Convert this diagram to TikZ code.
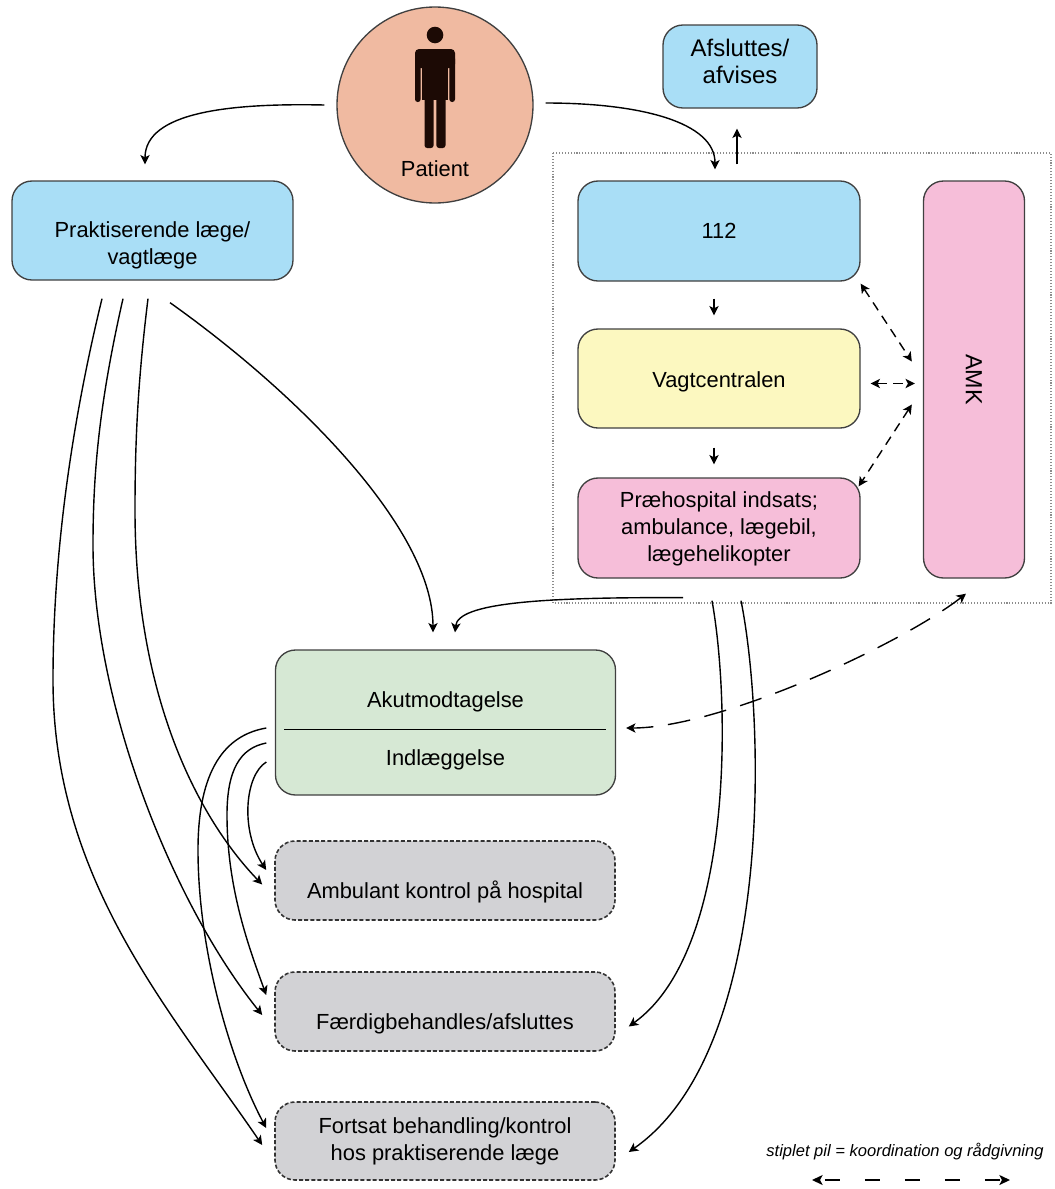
\documentclass[tikz,border=0pt]{standalone}
\usepackage{fontspec}
\usepackage{graphicx}
\setmainfont{Liberation Sans}
\usetikzlibrary{arrows.meta,calc}
\newdimen\pxu \pxu=0.75pt
\definecolor{cblue}{RGB}{169,222,246}
\definecolor{cyellow}{RGB}{252,248,192}
\definecolor{cpink}{RGB}{246,190,217}
\definecolor{cgreen}{RGB}{214,232,212}
\definecolor{cgray}{RGB}{210,210,213}
\definecolor{csalmon}{RGB}{240,186,161}
\definecolor{cman}{RGB}{28,10,5}
\newcommand\tx[2]{\raisebox{#1}[0pt][0pt]{\begin{tabular}{@{}c@{}}#2\end{tabular}}}
\begin{document}
\begin{tikzpicture}[x=0.75pt,y=-0.75pt,
  box/.style={draw=black!75, line width=1pt, rounded corners=15pt, inner sep=0pt,
    font=\fontsize{16.4}{20.5}\selectfont},
  gbox/.style={box, fill=cgray, draw=black!80, line width=1.2pt, dash pattern=on 3pt off 1.6pt},
  tip/.tip={Stealth[length=7pt,width=7pt,inset=1.8pt]},
  arr/.style={line width=1.05pt, -tip},
  darr/.style={line width=1.05pt, tip-tip, dash pattern=on 7pt off 5pt},
  darrlong/.style={line width=1.05pt, tip-tip, dash pattern=on 17pt off 11pt},
  darrleg/.style={line width=1.1pt, {Stealth[length=8pt,width=7.5pt,inset=2pt]}-{Stealth[length=8pt,width=7.5pt,inset=2pt]}, dash pattern=on 11pt off 19pt, dash phase=-4pt},
  frame/.style={draw=black!45, line width=0.8pt, dash pattern=on 0.8pt off 1.4pt},
  legend/.style={font=\fontsize{12.4}{14}\selectfont\itshape, inner sep=0pt},
]
\useasboundingbox (0,0) rectangle (1054,1189);

% dotted frame around the emergency dispatch system
\draw[frame] (553,153) rectangle (1051,603);

% patient
\node[circle, draw=black!75, line width=1pt, fill=csalmon, minimum size=196\pxu, inner sep=0pt,
  font=\fontsize{16.4}{20.5}\selectfont] (patient) at (435,105) {\tx{-54pt}{Patient}};
\begin{scope}[fill=cman]
  \fill (435,35) circle (8.3);
  \fill[rounded corners=3pt] (415,49) rectangle (455,68);
  \fill[rounded corners=2pt] (415,56) rectangle (420.6,102);
  \fill[rounded corners=2pt] (449.4,56) rectangle (455,102);
  \fill (422,56) rectangle (448,100);
  \fill[rounded corners=2pt] (424.5,90) rectangle (433.6,148);
  \fill[rounded corners=2pt] (436.4,90) rectangle (445.5,148);
\end{scope}

% boxes
\node[box, fill=cblue, minimum width=281\pxu, minimum height=99\pxu] (prakt) at (152.5,230.5)
  {\tx{-15.5pt}{Praktiserende læge/\\vagtlæge}};
\node[box, fill=cblue, minimum width=154\pxu, minimum height=83\pxu,
  font=\fontsize{18}{20}\selectfont] (afsl) at (740,66.5) {\tx{-3pt}{Afsluttes/\\afvises}};
\node[box, fill=cblue, minimum width=282\pxu, minimum height=100\pxu] (n112) at (719,231) {112};
\node[box, fill=cyellow, minimum width=282\pxu, minimum height=99\pxu] (vagt) at (719,378.5) {\tx{-7pt}{Vagtcentralen}};
\node[box, fill=cpink, minimum width=282\pxu, minimum height=100\pxu] (prae) at (719,528)
  {\tx{-5pt}{Præhospital indsats;\\ambulance, lægebil,\\lægehelikopter}};
\node[box, fill=cpink, minimum width=101\pxu, minimum height=397\pxu] (amk) at (974,379.5)
  {\rotatebox{-90}{\fontsize{17.5}{20}\selectfont AMK}};
\node[box, fill=cgreen, minimum width=340\pxu, minimum height=145\pxu] (akut) at (445.5,722.5)
  {\tx{-10.7pt}{Akutmodtagelse\\[23pt]Indlæggelse}};
\draw[line width=1pt] ($(akut.west)+(9.5,7)$) -- ($(akut.east)+(-10.5,7)$);
\node[gbox, minimum width=340\pxu, minimum height=79\pxu] (amb) at (445,880.5)
  {\tx{-14pt}{Ambulant kontrol på hospital}};
\node[gbox, minimum width=340\pxu, minimum height=79\pxu] (faerd) at (445,1011.5)
  {\tx{-13.5pt}{Færdigbehandles/afsluttes}};
\node[gbox, minimum width=340\pxu, minimum height=78\pxu] (forts) at (445,1141)
  {\tx{-4.5pt}{Fortsat behandling/kontrol\\hos praktiserende læge}};

% patient arrows
\draw[arr] ($(patient.west)+(-12,0)$) .. controls (230,103) and (145,112) .. ($(prakt.north)+(-7.5,-16)$);
\draw[arr] ($(patient.east)+(12,-2)$) .. controls (640,103) and (715,122) .. ($(n112.north)+(-4,-11)$);

% dispatch chain
\draw[arr] ($(n112.north)+(18,-16)$) -- ($(afsl.south)+(-3,20)$);
\draw[arr] ($(n112.south)+(-5,17)$) -- ($(vagt.north)+(-5,-13)$);
\draw[arr] ($(vagt.south)+(-5,19)$) -- ($(prae.north)+(-5,-13)$);

% coordination with AMK
\draw[darr] ($(n112.south east)+(0,2)$) -- ($(amk.west)+(-11,-18)$);
\draw[darr] ($(vagt.east)+(10,5)$) -- ($(amk.west)+(-8,4)$);
\draw[darr] ($(amk.west)+(-11,25)$) -- ($(prae.north east)+(-2,9)$);
\draw[darrlong] ($(amk.south)+(-8,15)$) .. controls (900,645) and (720,728) .. ($(akut.east)+(10,5.5)$);

% into Akutmodtagelse
\draw[arr] ($(prae.south)+(-36,19)$) .. controls (540,597) and (458,603) .. ($(akut.north)+(9.5,-17)$);
\draw[arr] ($(prakt.south)+(17.5,22)$) .. controls (300,395) and (433,530) .. ($(akut.north)+(-12.5,-17)$);

% from Praehospital
\draw[arr] ($(prae.south)+(-7,22)$) .. controls (730,700) and (735,950) .. ($(faerd.east)+(13,15)$);
\draw[arr] ($(prae.south)+(22,22)$) .. controls (765,720) and (775,1050) .. ($(forts.east)+(13,11)$);

% from Praktiserende laege
\draw[arr] ($(prakt.south)+(-50.5,18)$) .. controls (70,430) and (53,560) .. (53,680)
  .. controls (53,880) and (170,1010) .. ($(forts.west)+(-12,4)$);
\draw[arr] ($(prakt.south)+(-29.5,18)$) .. controls (100,400) and (93,470) .. (93,545)
  .. controls (93,700) and (170,900) .. ($(faerd.west)+(-12,3.5)$);
\draw[arr] ($(prakt.south)+(-4.5,18)$) .. controls (138,380) and (135,440) .. (135,510)
  .. controls (135,700) and (200,820) .. ($(amb.west)+(-12,4)$);

% from Akutmodtagelse
\draw[arr] ($(akut.west)+(-8.5,5.5)$) .. controls (225,735) and (198,770) .. (198,850)
  .. controls (198,950) and (230,1060) .. ($(forts.west)+(-8,-13)$);
\draw[arr] ($(akut.west)+(-8.5,20.5)$) .. controls (240,748) and (227,770) .. (227,815)
  .. controls (227,890) and (250,950) .. ($(faerd.west)+(-8,-16.5)$);
\draw[arr] ($(akut.west)+(-8.5,39.5)$) .. controls (245,775) and (240,830) .. ($(amb.west)+(-8,-10.5)$);

% legend
\node[legend] (legtext) at (905,1152) {stiplet pil = koordination og rådgivning};
\coordinate (legL) at (812,1180);
\coordinate (legR) at (1010,1180);
\draw[darrleg] (legL) -- (legR);
\end{tikzpicture}
\end{document}
